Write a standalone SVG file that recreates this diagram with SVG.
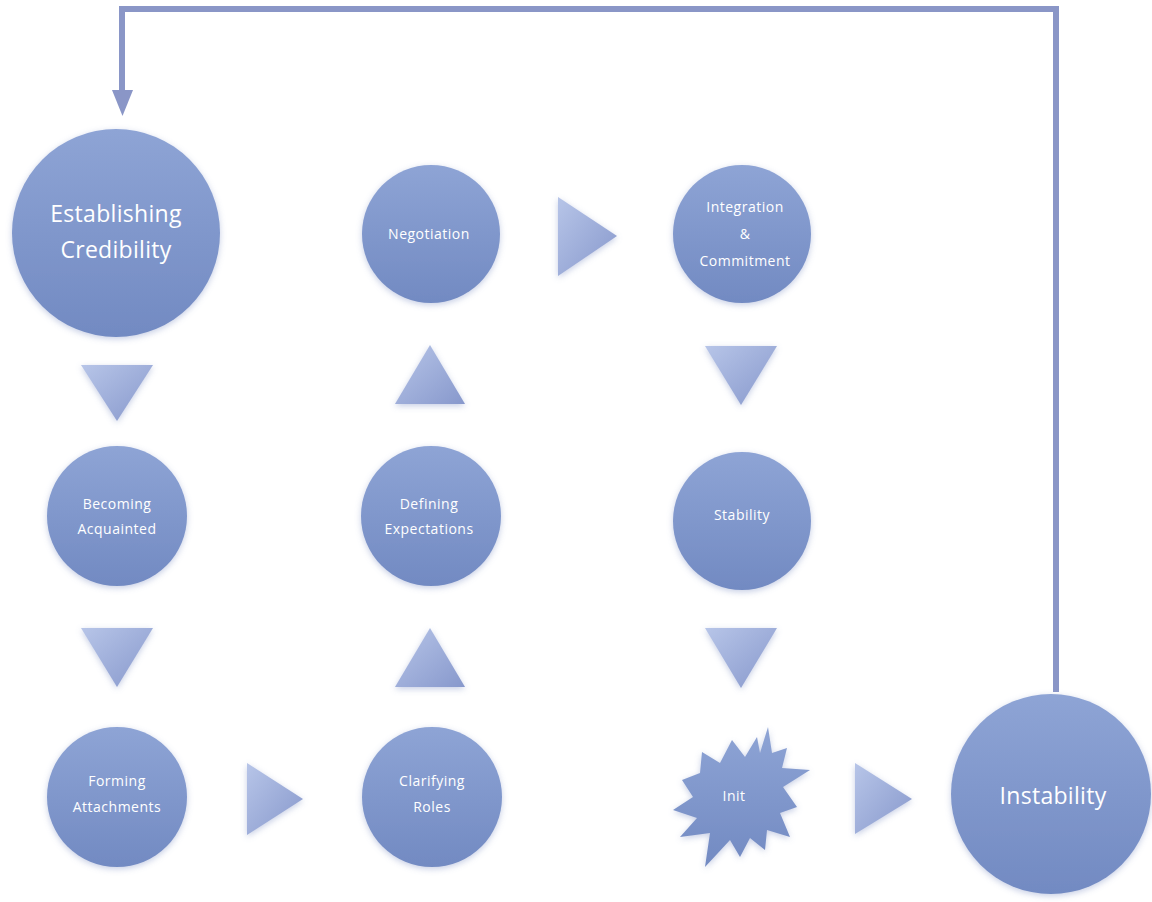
<svg xmlns="http://www.w3.org/2000/svg" width="1152" height="902" viewBox="0 0 1152 902">
  <defs>
    <linearGradient id="gCircle" x1="0" y1="0" x2="0" y2="1">
      <stop offset="0" stop-color="#8ea4d5"/>
      <stop offset="1" stop-color="#728ac2"/>
    </linearGradient>
    <linearGradient id="gTri" x1="0" y1="0" x2="1" y2="1">
      <stop offset="0" stop-color="#b7c5e8"/>
      <stop offset="1" stop-color="#8798cc"/>
    </linearGradient>
    <filter id="glow" x="-20%" y="-20%" width="140%" height="140%">
      <feDropShadow dx="0" dy="2" stdDeviation="3" flood-color="#8092c4" flood-opacity="0.45"/>
    </filter>
  </defs>
  <style>
    .node { fill: url(#gCircle); filter: url(#glow); }
    .tri { fill: url(#gTri); filter: url(#glow); }
    .lbl { fill: #ffffff; font-family: "Open Sans", "Liberation Sans", sans-serif; text-anchor: middle; }
    .big { font-size: 23px; letter-spacing: 0.3px; }
    .small { font-size: 14px; letter-spacing: 0.5px; }
    .conn { fill: none; stroke: #8a96c7; stroke-width: 6; }
    .head { fill: #8a96c7; }
  </style>
  <rect width="1152" height="902" fill="#ffffff"/>

  <g id="connectors">
    <polyline class="conn" points="1056,692 1056,9 122,9 122,92"/>
    <path class="head" d="M112,90 L133,90 L122.5,116 Z"/>
    <polygon class="tri" points="81,365 153,365 117,421"/>
    <polygon class="tri" points="81,628 153,628 117,687"/>
    <polygon class="tri" points="247,763 247,835 303,799"/>
    <polygon class="tri" points="395,687 465,687 430,628"/>
    <polygon class="tri" points="395,404 465,404 430,345"/>
    <polygon class="tri" points="558,197 558,276 617,236"/>
    <polygon class="tri" points="705,346 777,346 741,405"/>
    <polygon class="tri" points="705,628 777,628 741,688"/>
    <polygon class="tri" points="855,763 855,834 912,799"/>
  </g>

  <g id="establishing-credibility">
    <circle class="node" cx="116" cy="233" r="104"/>
    <text class="lbl big" x="116" y="222">Establishing</text>
    <text class="lbl big" x="116" y="258">Credibility</text>
  </g>
  <g id="becoming-acquainted">
    <circle class="node" cx="117" cy="516" r="70"/>
    <text class="lbl small" x="117" y="509">Becoming</text>
    <text class="lbl small" x="117" y="534">Acquainted</text>
  </g>
  <g id="forming-attachments">
    <circle class="node" cx="117" cy="797" r="70"/>
    <text class="lbl small" x="117" y="786">Forming</text>
    <text class="lbl small" x="117" y="812">Attachments</text>
  </g>
  <g id="clarifying-roles">
    <circle class="node" cx="432" cy="797" r="70"/>
    <text class="lbl small" x="432" y="786">Clarifying</text>
    <text class="lbl small" x="432" y="812">Roles</text>
  </g>
  <g id="defining-expectations">
    <circle class="node" cx="431" cy="516" r="70"/>
    <text class="lbl small" x="429" y="509">Defining</text>
    <text class="lbl small" x="429" y="534">Expectations</text>
  </g>
  <g id="negotiation">
    <circle class="node" cx="431" cy="234" r="69"/>
    <text class="lbl small" x="429" y="239">Negotiation</text>
  </g>
  <g id="integration-commitment">
    <circle class="node" cx="742" cy="234" r="69"/>
    <text class="lbl small" x="745" y="212">Integration</text>
    <text class="lbl small" x="745" y="239">&amp;</text>
    <text class="lbl small" x="745" y="266">Commitment</text>
  </g>
  <g id="stability">
    <circle class="node" cx="742" cy="521" r="69"/>
    <text class="lbl small" x="742" y="520">Stability</text>
  </g>
  <g id="init">
    <polygon class="node" points="768,727 772,753 787,748 782,768 810,770 783,787 797,807 780,813 790,837 767,830 765,850 750,838 740,857 730,840 705,867 710,833 680,837 697,818 673,810 693,797 682,780 700,773 702,752 720,763 732,740 745,757 757,737 760,753"/>
    <text class="lbl small" x="734" y="801">Init</text>
  </g>
  <g id="instability">
    <circle class="node" cx="1051" cy="794" r="100"/>
    <text class="lbl big" x="1053" y="804">Instability</text>
  </g>
</svg>
